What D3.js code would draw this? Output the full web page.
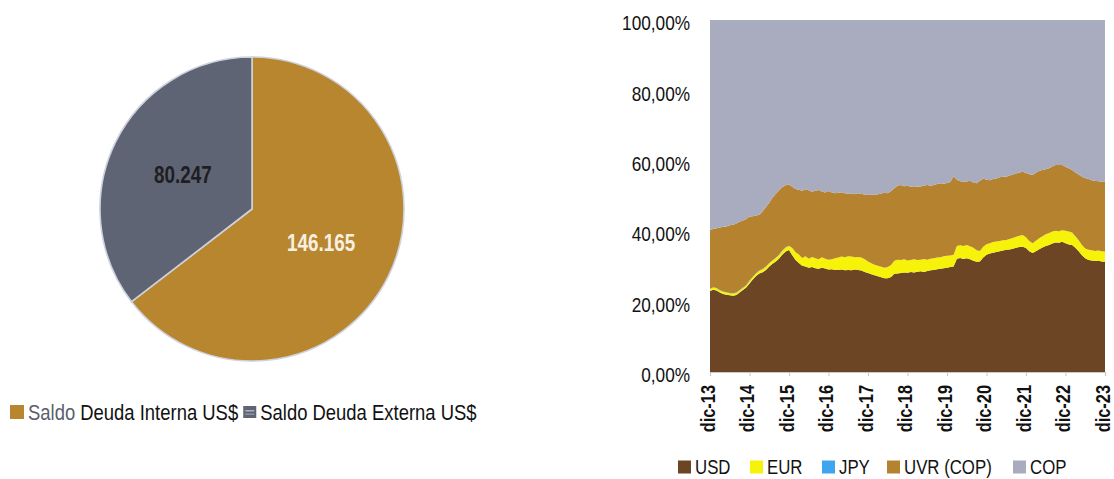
<!DOCTYPE html>
<html>
<head>
<meta charset="utf-8">
<script src="https://cdn.jsdelivr.net/npm/d3@7/dist/d3.min.js"></script>
<style>
  html, body { margin: 0; padding: 0; background: #fff; }
  svg { display: block; }
  text { font-family: "Liberation Sans", Arial, sans-serif; }
</style>
</head>
<body>
<svg id="chart" width="1114" height="479"></svg>
<script>
// ---- Pie: debt balance (US$ millions) ----
const pieLabels = ["Saldo Deuda Interna US$", "Saldo Deuda Externa US$"];
const pieValues = [146.165, 80.247];
const pieText = ["146.165", "80.247"];
const pieColors = ["#b8862f", "#5e6473"];

// ---- Stacked area: currency composition, monthly Dec-2013 .. Dec-2023 (%) ----
const yearLabels = ["dic-13", "dic-14", "dic-15", "dic-16", "dic-17", "dic-18",
                    "dic-19", "dic-20", "dic-21", "dic-22", "dic-23"];
const seriesNames = ["USD", "EUR", "JPY", "UVR (COP)", "COP"];
const yTicks = [0, 0.2, 0.4, 0.6, 0.8, 1.0];

const usd = [
  23.0, 23.4, 23.2, 22.6, 22.2, 22.0, 21.8, 21.7, 21.9, 22.6, 23.3, 24.0, 25.2,
  26.3, 27.3, 28.0, 28.4, 29.0, 30.0, 30.8, 31.4, 32.3, 33.4, 34.3, 34.7,
  33.2, 31.8, 31.0, 30.2, 30.0, 29.6, 29.8, 29.5, 29.3, 29.6, 29.4, 29.1,
  29.2, 29.0, 29.0, 29.1, 28.9, 29.0, 28.9, 29.1, 29.0, 28.8, 28.4, 28.1,
  27.8, 27.5, 27.2, 26.9, 26.6, 26.6, 27.0, 27.9, 28.0, 28.1, 28.3, 28.2,
  28.4, 28.3, 28.5, 28.6, 28.4, 28.7, 28.9, 29.0, 29.2, 29.3, 29.5, 29.6,
  29.8, 30.0, 32.2, 32.4, 32.1, 32.3, 32.0, 31.6, 31.3, 31.4, 32.5, 33.3,
  33.7, 33.9, 34.1, 34.3, 34.5, 34.7, 34.8, 35.0, 35.3, 35.5, 35.6, 35.2,
  34.3, 33.8, 34.3, 34.9, 35.4, 35.8, 36.1, 36.5, 36.8, 36.7, 37.0, 36.6,
  36.2, 36.1, 35.3, 34.3, 33.2, 32.3, 31.8, 31.7, 31.5, 31.6, 31.4, 31.3
];
const eur = [
  0.6, 0.6, 0.6, 0.6, 0.6, 0.6, 0.6, 0.6, 0.6, 0.6, 0.6, 0.6, 0.7,
  0.7, 0.7, 0.8, 0.8, 0.9, 0.9, 0.9, 1.0, 1.0, 1.1, 1.1, 1.1,
  2.0, 2.2, 2.4, 2.2, 2.9, 2.6, 2.9, 2.8, 2.7, 3.0, 2.8, 2.8,
  2.8, 3.3, 3.5, 3.7, 3.7, 3.9, 3.9, 3.5, 3.7, 3.7, 3.6, 3.3,
  3.1, 3.0, 3.0, 3.0, 3.0, 3.2, 3.4, 3.7, 3.9, 3.7, 3.7, 3.5,
  3.4, 3.7, 3.3, 3.3, 3.7, 3.2, 3.3, 3.3, 3.3, 3.3, 3.4, 3.4,
  3.3, 3.3, 3.6, 3.6, 3.7, 3.8, 3.7, 3.7, 3.3, 3.0, 3.1, 3.0,
  2.9, 3.0, 3.0, 2.9, 2.9, 2.8, 3.0, 3.1, 3.1, 3.2, 3.3, 3.1,
  2.9, 2.8, 3.0, 3.1, 3.2, 3.3, 3.4, 3.4, 3.3, 3.3, 3.3, 3.5,
  3.7, 3.5, 3.3, 3.1, 2.9, 2.8, 2.9, 2.9, 2.9, 2.9, 2.9, 2.9
];
const jpy = [
  0.1, 0.1, 0.1, 0.1, 0.1, 0.1, 0.1, 0.1, 0.1, 0.1, 0.1, 0.1, 0.1,
  0.1, 0.1, 0.1, 0.1, 0.1, 0.1, 0.1, 0.1, 0.1, 0.1, 0.1, 0.1,
  0.0, 0.0, 0.0, 0.0, 0.0, 0.0, 0.0, 0.0, 0.0, 0.0, 0.0, 0.0,
  0.0, 0.0, 0.0, 0.0, 0.0, 0.0, 0.0, 0.0, 0.0, 0.0, 0.0, 0.0,
  0.0, 0.0, 0.0, 0.0, 0.0, 0.0, 0.0, 0.0, 0.0, 0.0, 0.0, 0.0,
  0.0, 0.0, 0.0, 0.0, 0.0, 0.0, 0.0, 0.0, 0.0, 0.0, 0.0, 0.0,
  0.0, 0.0, 0.0, 0.0, 0.0, 0.0, 0.0, 0.0, 0.0, 0.0, 0.0, 0.0,
  0.0, 0.0, 0.0, 0.0, 0.0, 0.0, 0.0, 0.0, 0.0, 0.0, 0.0, 0.0,
  0.0, 0.0, 0.0, 0.0, 0.0, 0.0, 0.0, 0.0, 0.0, 0.0, 0.0, 0.0,
  0.0, 0.0, 0.0, 0.0, 0.0, 0.0, 0.0, 0.0, 0.0, 0.0, 0.0, 0.0
];
const uvr = [
  16.7, 16.6, 17.0, 17.8, 18.4, 18.7, 19.2, 19.5, 19.6, 19.4, 19.1, 18.8, 18.2,
  17.2, 16.4, 15.8, 16.4, 16.9, 17.1, 17.8, 18.2, 18.3, 18.0, 17.6, 17.5,
  17.4, 18.0, 18.4, 19.1, 19.0, 19.4, 18.5, 19.2, 19.7, 18.7, 18.8, 19.5,
  19.0, 18.5, 18.4, 18.3, 18.2, 17.7, 18.0, 17.9, 18.1, 18.1, 18.4, 18.9,
  19.5, 19.8, 20.3, 20.8, 21.3, 21.0, 21.0, 20.6, 21.1, 21.3, 20.8, 21.2,
  20.8, 20.8, 20.8, 20.8, 20.9, 21.2, 20.7, 20.8, 20.9, 21.0, 20.6, 20.7,
  20.9, 22.3, 18.8, 18.2, 18.3, 18.0, 18.6, 18.5, 19.0, 19.9, 19.4, 18.3,
  17.9, 17.9, 17.9, 18.1, 18.1, 18.0, 18.0, 18.0, 18.0, 18.0, 18.0, 18.2,
  19.0, 19.4, 19.3, 19.2, 18.8, 18.5, 18.4, 18.5, 18.7, 18.8, 18.5, 18.2,
  18.0, 17.8, 18.1, 18.7, 19.4, 20.0, 20.1, 19.9, 19.9, 19.7, 19.8, 19.9
];
const cop = [
  59.7, 59.4, 59.2, 59.0, 58.8, 58.7, 58.4, 58.2, 57.9, 57.4, 57.0, 56.6, 55.9,
  55.8, 55.6, 55.4, 54.4, 53.2, 52.0, 50.5, 49.4, 48.4, 47.5, 47.0, 46.7,
  47.4, 48.0, 48.2, 48.5, 48.1, 48.4, 48.8, 48.5, 48.3, 48.7, 49.0, 48.6,
  49.0, 49.2, 49.1, 48.9, 49.2, 49.4, 49.2, 49.5, 49.2, 49.4, 49.6, 49.7,
  49.6, 49.7, 49.5, 49.3, 49.1, 49.2, 48.6, 47.8, 47.0, 46.9, 47.2, 47.1,
  47.4, 47.2, 47.4, 47.3, 47.0, 46.9, 47.1, 46.9, 46.6, 46.4, 46.5, 46.3,
  46.0, 44.4, 45.4, 45.8, 45.9, 45.9, 45.7, 46.2, 46.4, 45.7, 45.0, 45.4,
  45.5, 45.2, 45.0, 44.7, 44.5, 44.5, 44.2, 43.9, 43.6, 43.3, 43.1, 43.5,
  43.8, 44.0, 43.4, 42.8, 42.6, 42.4, 42.1, 41.6, 41.2, 41.2, 41.2, 41.7,
  42.1, 42.6, 43.3, 43.9, 44.5, 44.9, 45.2, 45.5, 45.7, 45.8, 45.9, 45.9
];

const areaColors = {
  "USD": "#6c4524",
  "EUR": "#f6f20a",
  "JPY": "#3ea6ee",
  "UVR (COP)": "#b5832f",
  "COP": "#a8acbe"
};

// Condense text horizontally (narrow face look) with a local x-scale.
const NARROW = 0.82;
function squeeze(sel) {
  sel.each(function () {
    const x0 = +(this.getAttribute("x") || 0);
    const t = this.getAttribute("transform") || "";
    this.setAttribute("x", x0 / NARROW);
    this.setAttribute("transform", (t + ` scale(${NARROW},1)`).trim());
  });
  return sel;
}

const svg = d3.select("#chart");

// ================= Pie =================
const pieG = svg.append("g").attr("transform", "translate(252,209)");
const pie = d3.pie().sort(null).value(d => d.value);
const arc = d3.arc().innerRadius(0).outerRadius(152);
const pieData = pie(pieValues.map((v, i) => ({ value: v, label: pieLabels[i], text: pieText[i], color: pieColors[i] })));

pieG.selectAll("path.slice")
  .data(pieData)
  .join("path")
  .attr("class", "slice")
  .attr("d", arc)
  .attr("fill", d => d.data.color)
  .attr("stroke", "#cdd2de")
  .attr("stroke-width", 1.6);

// value labels
const labelArc = d3.arc().innerRadius(77).outerRadius(77);
pieG.selectAll("text.val")
  .data(pieData)
  .join("text")
  .attr("class", "val")
  .attr("transform", d => {
    const c = labelArc.centroid(d);
    return `translate(${c[0]},${c[1]})`;
  })
  .attr("text-anchor", "middle")
  .attr("dy", "0.36em")
  .attr("font-size", 23)
  .attr("font-weight", "bold")
  .attr("fill", (d, i) => i === 0 ? "#f7f0e2" : "#1e1e22")
  .text(d => d.data.text)
  .call(squeeze);

// pie legend
const pLeg = svg.append("g").attr("transform", "translate(10,412)");
pLeg.append("rect").attr("x", 0).attr("y", -7).attr("width", 14).attr("height", 14).attr("fill", pieColors[0]);
const t1 = pLeg.append("text").attr("x", 18).attr("dy", "0.36em").attr("font-size", 22.5).attr("fill", "#111");
t1.append("tspan").attr("fill", "#5a5f6b").text("Saldo");
t1.append("tspan").text(" Deuda Interna US$");
const w1 = t1.node().getComputedTextLength() * NARROW;
squeeze(t1);
const g2 = pLeg.append("g").attr("transform", `translate(${18 + w1 + 5},0)`);
g2.append("rect").attr("x", 0).attr("y", -6).attr("width", 13).attr("height", 12).attr("fill", pieColors[1]);
g2.append("rect").attr("x", 2).attr("y", -2).attr("width", 9).attr("height", 1.5).attr("fill", "#aeb3c2");
g2.append("rect").attr("x", 2).attr("y", 1.5).attr("width", 9).attr("height", 1.5).attr("fill", "#8d93a3");
g2.append("text").attr("x", 17).attr("dy", "0.36em").attr("font-size", 22.5).attr("fill", "#111")
  .text(pieLabels[1])
  .call(squeeze);

// ================= Stacked area =================
const plot = { left: 710, right: 1105, top: 20, bottom: 372 };
const rows = usd.map((_, i) => ({
  i,
  "USD": usd[i], "EUR": eur[i], "JPY": jpy[i], "UVR (COP)": uvr[i], "COP": cop[i]
}));

const stack = d3.stack().keys(seriesNames).offset(d3.stackOffsetExpand);
const layers = stack(rows);

const x = d3.scaleLinear().domain([0, usd.length - 1]).range([plot.left, plot.right]);
const y = d3.scaleLinear().domain([0, 1]).range([plot.bottom, plot.top]);

const area = d3.area()
  .x(d => x(d.data.i))
  .y0(d => y(d[0]))
  .y1(d => y(d[1]));

svg.append("g")
  .selectAll("path")
  .data(layers)
  .join("path")
  .attr("d", area)
  .attr("fill", d => areaColors[d.key]);

// y axis (labels only)
const yAxis = d3.axisLeft(y)
  .tickValues(yTicks)
  .tickSize(0)
  .tickPadding(20)
  .tickFormat(d => (d * 100).toFixed(2).replace(".", ",") + "%");
const yG = svg.append("g").attr("transform", `translate(${plot.left},3)`).call(yAxis);
yG.select(".domain").remove();
yG.selectAll("text").attr("font-size", 21).attr("fill", "#111")
  .style("font-family", "'Liberation Sans', Arial, sans-serif")
  .call(squeeze);

// x axis
const xAxis = d3.axisBottom(x)
  .tickValues(yearLabels.map((_, k) => k * 12))
  .tickSize(4)
  .tickFormat((d, k) => yearLabels[k]);
const xG = svg.append("g").attr("transform", `translate(0,${plot.bottom})`).call(xAxis);
xG.select(".domain").attr("stroke", "#c8c8c8").attr("stroke-width", 1.2);
xG.selectAll(".tick line").attr("stroke", "#c8c8c8");
xG.selectAll("text")
  .attr("font-size", 20)
  .attr("font-weight", "bold")
  .attr("fill", "#111")
  .style("font-family", "'Liberation Sans', Arial, sans-serif")
  .attr("text-anchor", "end")
  .attr("transform", "rotate(-90)")
  .attr("x", -13)
  .attr("y", 0)
  .attr("dy", "0.22em")
  .call(squeeze);

// area legend
const legItems = [
  { name: "USD", x: 678 },
  { name: "EUR", x: 750 },
  { name: "JPY", x: 822 },
  { name: "UVR (COP)", x: 887 },
  { name: "COP", x: 1013 }
];
const aLeg = svg.append("g").attr("transform", "translate(0,467)");
const li = aLeg.selectAll("g").data(legItems).join("g")
  .attr("transform", d => `translate(${d.x},0)`);
li.append("rect").attr("x", 0).attr("y", -6.5).attr("width", 13).attr("height", 13)
  .attr("fill", d => areaColors[d.name]);
li.append("text").attr("x", 17).attr("dy", "0.35em").attr("font-size", 20.5).attr("fill", "#111")
  .text(d => d.name)
  .call(squeeze);
</script>
</body>
</html>
